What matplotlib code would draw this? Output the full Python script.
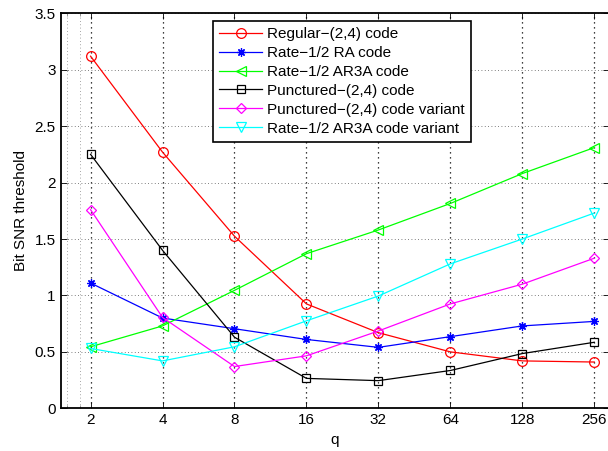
import matplotlib
matplotlib.use("Agg")
import matplotlib.pyplot as plt
from matplotlib.ticker import FixedLocator, NullFormatter

plt.rcParams['font.family'] = ['Liberation Sans', 'DejaVu Sans']

q = [2, 4, 8, 16, 32, 64, 128, 256]
xtick_labels = ['2', '4', '8', '16', '32', '64', '128', '256']

regular_24 = [3.12, 2.27, 1.525, 0.925, 0.67, 0.50, 0.42, 0.41]
ra_half = [1.11, 0.80, 0.705, 0.61, 0.54, 0.635, 0.73, 0.77]
ar3a_half = [0.545, 0.73, 1.045, 1.37, 1.58, 1.815, 2.08, 2.31]
punct_24 = [2.25, 1.40, 0.63, 0.265, 0.245, 0.335, 0.485, 0.585]
punct_24_var = [1.76, 0.805, 0.37, 0.465, 0.685, 0.925, 1.10, 1.33]
ar3a_half_var = [0.53, 0.42, 0.545, 0.775, 0.995, 1.28, 1.50, 1.73]

labels = ['Regular\u2212(2,4) code', 'Rate\u22121/2 RA code', 'Rate\u22121/2 AR3A code',
          'Punctured\u2212(2,4) code', 'Punctured\u2212(2,4) code variant',
          'Rate\u22121/2 AR3A code variant']
series = [regular_24, ra_half, ar3a_half, punct_24, punct_24_var, ar3a_half_var]
colors = ['#ff0000', '#0000ff', '#00ff00', '#000000', '#ff00ff', '#00ffff']
markers = ['o', (8, 2, 0), '<', 's', 'D', 'v']
msizes = [7, 6, 7, 6, 5.5, 7]

fig = plt.figure(figsize=(6.08, 4.51), dpi=100)
ax = fig.add_axes([60.7 / 608, 42.7 / 451, (609 - 60.7) / 608, 395 / 451])

for y, lab, c, m, ms in zip(series, labels, colors, markers, msizes):
    ax.plot(q, y, color=c, marker=m, markersize=ms,
            markerfacecolor='none', markeredgecolor=c, markeredgewidth=0.9,
            linewidth=0.9, label=lab)

ax.set_xscale('log', base=2)
ax.set_xlim(1.5, 295)
ax.set_ylim(0, 3.5)
ax.xaxis.set_major_locator(FixedLocator(q))
ax.set_xticklabels(xtick_labels)
ax.xaxis.set_minor_locator(FixedLocator([1.6, 1.8]))
ax.xaxis.set_minor_formatter(NullFormatter())
ax.set_yticks([0, 0.5, 1, 1.5, 2, 2.5, 3, 3.5])
ax.set_yticklabels(['0', '0.5', '1', '1.5', '2', '2.5', '3', '3.5'])

ax.tick_params(which='both', direction='in', top=True, right=True,
               labelsize=11, length=4, width=0.6)
ax.tick_params(which='minor', length=2, color='#888888')
ax.grid(True, which='major', axis='x', color='black', linestyle=(0, (1, 3)), linewidth=0.9)
ax.grid(True, which='major', axis='y', color='#555555', linestyle=(0, (1, 3)), linewidth=0.6)
ax.grid(True, which='minor', axis='x', color='#888888', linestyle=(0, (1, 3)), linewidth=0.6)
ax.set_axisbelow(True)
for s in ax.spines.values():
    s.set_linewidth(1.3)

ax.set_xlabel('q', fontsize=11, labelpad=4)
ax.set_ylabel('Bit SNR threshold', fontsize=11, labelpad=5)

leg = ax.legend(loc='upper left', bbox_to_anchor=(213 / 608, 1 - 21 / 451),
                bbox_transform=fig.transFigure, borderaxespad=0, fancybox=False,
                edgecolor='black', framealpha=1, fontsize=11, handlelength=2.8,
                handletextpad=0.35, labelspacing=0.32, borderpad=0.4)
leg.get_frame().set_linewidth(1.2)

fig.savefig('out.png', dpi=100)
